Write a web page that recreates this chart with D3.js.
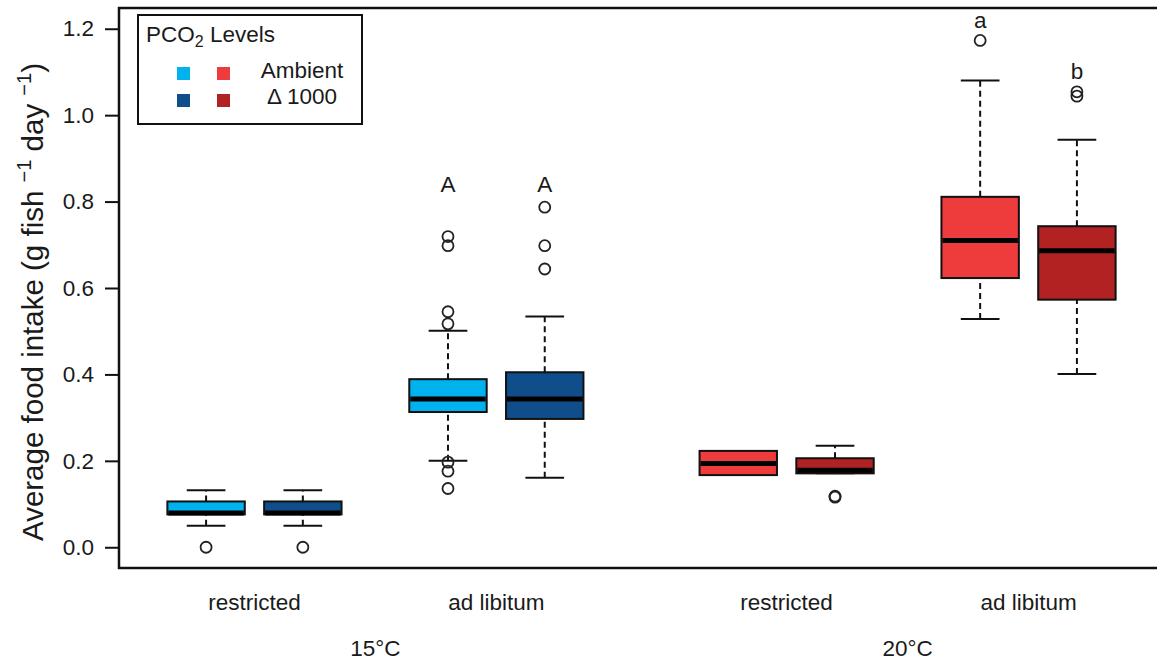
<!DOCTYPE html>
<html>
<head>
<meta charset="utf-8">
<script src="https://cdn.jsdelivr.net/npm/d3@7"></script>
<style>
  body { margin: 0; background: #fff; }
  text { font-family: "Liberation Sans", Arial, Helvetica, sans-serif; fill: #1a1a1a; }
</style>
</head>
<body>
<svg id="chart"></svg>
<script>
// values
var temps = ["15°C", "20°C"];
var feeds = ["restricted", "ad libitum"];
var levels = ["Ambient", "\u0394 1000"];

var boxTemp  = ["15°C", "15°C", "15°C", "15°C", "20°C", "20°C", "20°C", "20°C"];
var boxFeed  = ["restricted", "restricted", "ad libitum", "ad libitum", "restricted", "restricted", "ad libitum", "ad libitum"];
var boxLevel = ["Ambient", "\u0394 1000", "Ambient", "\u0394 1000", "Ambient", "\u0394 1000", "Ambient", "\u0394 1000"];

var whiskerLow  = [0.050, 0.050, 0.200, 0.161, 0.167, 0.171, 0.528, 0.401];
var quart1      = [0.076, 0.076, 0.313, 0.297, 0.167, 0.171, 0.623, 0.573];
var median      = [0.079, 0.079, 0.343, 0.343, 0.194, 0.178, 0.710, 0.686];
var quart3      = [0.106, 0.106, 0.389, 0.405, 0.223, 0.206, 0.811, 0.743];
var whiskerHigh = [0.132, 0.132, 0.501, 0.534, 0.223, 0.235, 1.080, 0.943];
var outliers = [
    [0.0],
    [0.0],
    [0.719, 0.698, 0.545, 0.517, 0.197, 0.176, 0.136],
    [0.787, 0.698, 0.644],
    [],
    [0.118, 0.116],
    [1.173],
    [1.054, 1.044]
];
var letters = ["", "", "A", "A", "", "", "a", "b"];
var letterAt = [0, 0, 0.84, 0.84, 0, 0, 1.22, 1.10];

var yTicks = [0, 0.2, 0.4, 0.6, 0.8, 1.0, 1.2];

// layout
var width = 1157, height = 661;
var fontSize = "22.5px";
var slotAt = {"15°C|restricted": 1, "15°C|ad libitum": 3.5, "20°C|restricted": 6.5, "20°C|ad libitum": 9};
var frame = {left: 119, right: 1164, top: 8, bottom: 568};
var colors = {
    "15°C": d3.scaleOrdinal().domain(levels).range(["#00B2EE", "#104E8B"]),
    "20°C": d3.scaleOrdinal().domain(levels).range(["#EE3B3B", "#B22222"])
};

var data = boxTemp.map(function(t, i) {
    return {
        temp: t, feed: boxFeed[i], level: boxLevel[i],
        pos: slotAt[t + "|" + boxFeed[i]] + levels.indexOf(boxLevel[i]),
        lo: whiskerLow[i], q1: quart1[i], med: median[i], q3: quart3[i], hi: whiskerHigh[i],
        out: outliers[i], letter: letters[i], letterY: letterAt[i]
    };
});

var xScale = d3.scaleLinear().domain([0.1, 10.9]).range([frame.left, frame.right]),
    yScale = d3.scaleLinear().domain([-0.048, 1.248]).range([frame.bottom, frame.top]),
    halfBox = 0.4,
    halfCap = 0.2;

var svg = d3.select("#chart").attr("width", width).attr("height", height);

// y axis
var yAxis = d3.axisLeft(yScale).tickValues(yTicks).tickSize(14).tickPadding(11).tickFormat(d3.format(".1f"));
var ga = svg.append("g").attr("class", "y axis").attr("transform", "translate(" + frame.left + ",0)").call(yAxis);
ga.select(".domain").remove();
ga.selectAll(".tick line").attr("stroke", "#111").attr("stroke-width", 2);
ga.selectAll(".tick text").style("font-size", fontSize).attr("fill", "#1a1a1a");

// y label
var ylab = svg.append("text")
    .attr("transform", "translate(43," + ((frame.top + frame.bottom) / 2 + 14) + ") rotate(-90)")
    .attr("text-anchor", "middle")
    .style("font-size", "29.5px");
ylab.append("tspan").text("Average food intake (g fish ");
ylab.append("tspan").attr("dy", -12).style("font-size", "20px").text("\u22121");
ylab.append("tspan").attr("dy", 12).text(" day ");
ylab.append("tspan").attr("dy", -12).style("font-size", "20px").text("\u22121");
ylab.append("tspan").attr("dy", 12).text(")");

// boxes
var g = svg.append("g");
var box = g.selectAll(".box").data(data).enter().append("g").attr("class", "box");

function whisker(sel, a, b) {
    sel.append("line")
        .attr("x1", function(d){return xScale(d.pos)})
        .attr("x2", function(d){return xScale(d.pos)})
        .attr("y1", function(d){return yScale(d[a])})
        .attr("y2", function(d){return yScale(d[b])})
        .attr("stroke", "#111").attr("stroke-width", 2).attr("stroke-dasharray", "6,4");
}
function cap(sel, key) {
    sel.append("line")
        .attr("x1", function(d){return xScale(d.pos - halfCap)})
        .attr("x2", function(d){return xScale(d.pos + halfCap)})
        .attr("y1", function(d){return yScale(d[key])})
        .attr("y2", function(d){return yScale(d[key])})
        .attr("stroke", "#111").attr("stroke-width", 2);
}
whisker(box, "q3", "hi");
whisker(box, "lo", "q1");
cap(box, "hi");
cap(box, "lo");

box.append("rect")
    .attr("x", function(d){return xScale(d.pos - halfBox)})
    .attr("width", function(d){return xScale(d.pos + halfBox) - xScale(d.pos - halfBox)})
    .attr("y", function(d){return yScale(d.q3)})
    .attr("height", function(d){return yScale(d.q1) - yScale(d.q3)})
    .attr("fill", function(d){return colors[d.temp](d.level)})
    .attr("stroke", "#111").attr("stroke-width", 2);

box.append("line")
    .attr("x1", function(d){return xScale(d.pos - halfBox) + 1})
    .attr("x2", function(d){return xScale(d.pos + halfBox) - 1})
    .attr("y1", function(d){return yScale(d.med)})
    .attr("y2", function(d){return yScale(d.med)})
    .attr("stroke", "#000").attr("stroke-width", 5);

box.selectAll(".out").data(function(d){return d.out.map(function(v){return [d.pos, v]})})
    .enter().append("circle").attr("class", "out")
    .attr("cx", function(d){return xScale(d[0])})
    .attr("cy", function(d){return yScale(d[1])})
    .attr("r", 5.5)
    .attr("fill", "none").attr("stroke", "#222").attr("stroke-width", 1.8);

box.filter(function(d){return d.letter}).append("text")
    .attr("x", function(d){return xScale(d.pos)})
    .attr("y", function(d){return yScale(d.letterY)})
    .attr("text-anchor", "middle")
    .attr("dominant-baseline", "central")
    .style("font-size", fontSize)
    .text(function(d){return d.letter});

// frame
svg.append("rect")
    .attr("x", frame.left).attr("y", frame.top)
    .attr("width", frame.right - frame.left).attr("height", frame.bottom - frame.top)
    .attr("fill", "none").attr("stroke", "#111").attr("stroke-width", 2.5);

// category labels
var feedLabels = [];
temps.forEach(function(t) {
    feeds.forEach(function(f) {
        feedLabels.push({temp: t, feed: f, pos: slotAt[t + "|" + f] + 0.5});
    });
});
svg.selectAll(".feed").data(feedLabels).enter().append("text").attr("class", "feed")
    .attr("x", function(d){return xScale(d.pos)})
    .attr("y", 610)
    .attr("text-anchor", "middle")
    .style("font-size", fontSize)
    .text(function(d){return d.feed});

svg.selectAll(".temp").data(temps).enter().append("text").attr("class", "temp")
    .attr("x", function(t){return xScale((slotAt[t + "|restricted"] + slotAt[t + "|ad libitum"]) / 2 + 0.5)})
    .attr("y", 656)
    .attr("text-anchor", "middle")
    .style("font-size", fontSize)
    .text(function(t){return t});

// legend
var lg = svg.append("g").attr("transform", "translate(138,15)");
lg.append("rect").attr("width", 224).attr("height", 109)
    .attr("fill", "#fff").attr("stroke", "#111").attr("stroke-width", 2);
var lt = lg.append("text").attr("x", 8).attr("y", 27).style("font-size", fontSize);
lt.append("tspan").text("PCO");
lt.append("tspan").attr("dy", 5).style("font-size", "16px").text("2");
lt.append("tspan").attr("dy", -5).text(" Levels");
levels.forEach(function(lv, i) {
    temps.forEach(function(t, j) {
        lg.append("rect")
            .attr("x", 39 + j * 40).attr("y", 52 + i * 27)
            .attr("width", 13).attr("height", 13)
            .attr("fill", colors[t](lv));
    });
    lg.append("text")
        .attr("x", 164).attr("y", 63 + i * 26)
        .attr("text-anchor", "middle")
        .style("font-size", fontSize)
        .text(lv);
});
</script>
</body>
</html>
